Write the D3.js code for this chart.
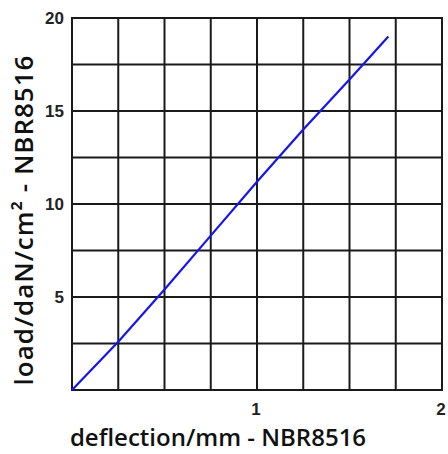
<!DOCTYPE html>
<html>
<head>
<meta charset="utf-8">
<script src="https://cdn.jsdelivr.net/npm/d3@7"></script>
<style>
  body { margin: 0; background: #fff; }
  svg { display: block; }
  .tick-label { font-family: "Liberation Sans", Arial, sans-serif; font-weight: bold; font-size: 17px; fill: #222; }
  .x-title { font-family: "Open Sans", sans-serif; font-weight: 600; font-size: 24px; fill: #111; }
  .y-title { font-family: "Open Sans", sans-serif; font-weight: 600; font-size: 26px; letter-spacing: 1px; fill: #111; }
</style>
</head>
<body>
<div id="chart"></div>
<script>
// curve
const deflection = [0, 0.25, 0.5, 0.75, 1.0, 1.25, 1.5, 1.71];
const load = [0, 2.6, 5.4, 8.3, 11.2, 14.0, 16.7, 19.0];

const xTicks = [1, 2];
const yTicks = [5, 10, 15, 20];
const xGrid = d3.range(0, 2.001, 0.25);
const yGrid = d3.range(0, 20.001, 2.5);

const W = 448, H = 454;
const margin = {t:18, r:6, b:64, l:72};

const svg = d3.select('#chart').append('svg')
	.attr('width', W)
	.attr('height', H);

const x = d3.scaleLinear().domain([0, 2]).range([margin.l, W - margin.r]);
const y = d3.scaleLinear().domain([0, 20]).range([H - margin.b, margin.t]);

const grid = svg.append('g').attr('class','grid');

grid.selectAll('.vline')
	.data(xGrid)
	.enter()
	.append('line')
	.attr('x1', d => x(d)).attr('x2', d => x(d))
	.attr('y1', y(0)).attr('y2', y(20))
	.style('stroke', '#1a1a1a')
	.style('stroke-width', 2);

grid.selectAll('.hline')
	.data(yGrid)
	.enter()
	.append('line')
	.attr('x1', x(0) - 1).attr('x2', x(2) + 1)
	.attr('y1', d => y(d)).attr('y2', d => y(d))
	.style('stroke', '#1a1a1a')
	.style('stroke-width', 2);

//the load curve
const line = d3.line()
	.x((d, i) => x(deflection[i]))
	.y(d => y(d));

svg.append('path')
	.datum(load)
	.attr('d', line)
	.style('fill', 'none')
	.style('stroke', '#1515f0')
	.style('stroke-width', 2.2);

//tick labels
svg.selectAll('.ytick')
	.data(yTicks)
	.enter()
	.append('text')
	.attr('class', 'tick-label')
	.attr('x', x(0) - 8)
	.attr('y', d => y(d))
	.attr('dy', '0.35em')
	.attr('text-anchor', 'end')
	.text(d => d);

svg.selectAll('.xtick')
	.data(xTicks)
	.enter()
	.append('text')
	.attr('class', 'tick-label')
	.attr('x', d => x(d) - 1)
	.attr('y', y(0) + 25)
	.attr('text-anchor', 'middle')
	.text(d => d);

//axis titles
svg.append('text')
	.attr('class', 'x-title')
	.attr('x', 218)
	.attr('y', 446)
	.attr('text-anchor', 'middle')
	.text('deflection/mm - NBR8516');

svg.append('text')
	.attr('class', 'y-title')
	.attr('transform', 'translate(33, 220) rotate(-90)')
	.attr('text-anchor', 'middle')
	.text('load/daN/cm² - NBR8516');
</script>
</body>
</html>
